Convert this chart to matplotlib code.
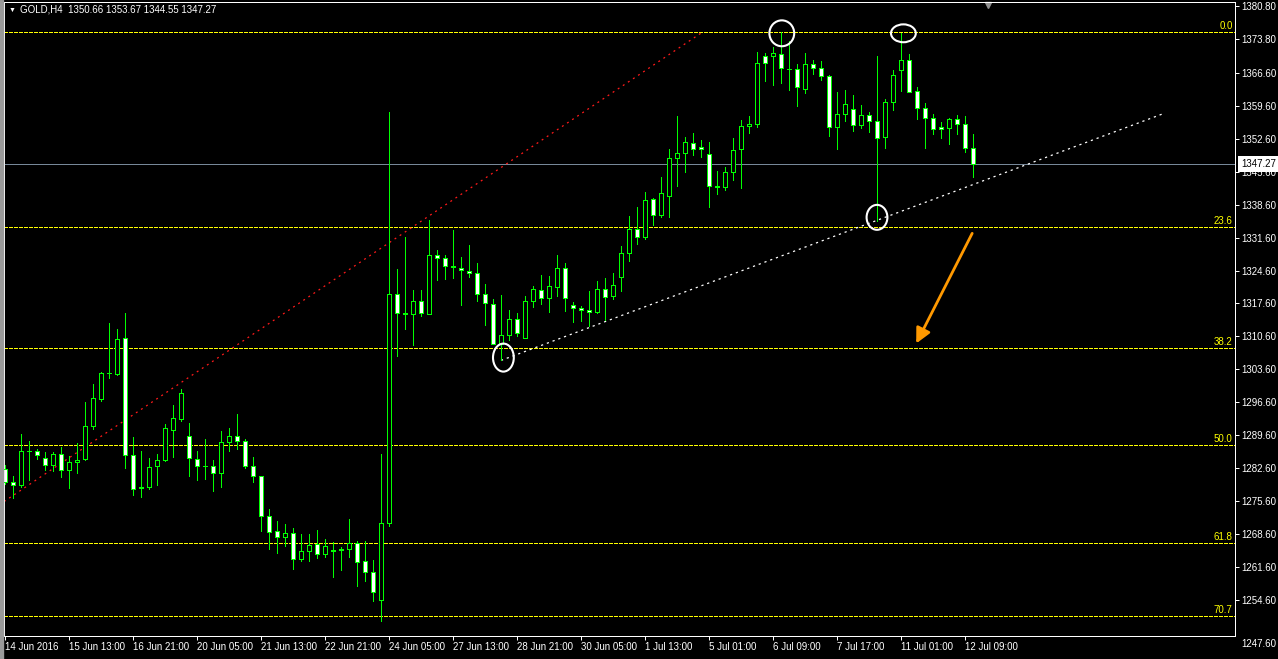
import numpy as np
import matplotlib
matplotlib.use('Agg')
import matplotlib.pyplot as plt
import matplotlib.transforms as mtransforms
from matplotlib.patches import Ellipse, Rectangle

plt.rcParams['font.family'] = ['Liberation Sans', 'DejaVu Sans']
plt.rcParams['lines.scale_dashes'] = False

# GOLD H4 bars, 14 Jun 2016 .. 12 Jul 2016
opens = [1282.44, 1279.69, 1278.98, 1286.17, 1286.31, 1284.83, 1283.21, 1285.68, 1282.15, 1283.85,
         1284.48, 1291.67, 1297.38, 1302.80, 1302.66, 1310.35, 1285.40, 1278.70, 1278.56, 1283.00,
         1284.27, 1290.82, 1293.15, 1289.41, 1284.65, 1283.17, 1283.17, 1281.62, 1288.17, 1289.51,
         1288.45, 1283.17, 1280.84, 1272.38, 1269.21, 1268.08, 1268.79, 1263.22, 1264.98, 1266.46,
         1264.28, 1265.12, 1265.41, 1265.33, 1266.67, 1262.87, 1260.54, 1254.55, 1271.04, 1319.54,
         1315.52, 1315.31, 1318.06, 1315.31, 1328.00, 1327.36, 1325.46, 1325.18, 1324.40, 1323.98,
         1319.54, 1317.43, 1308.97, 1310.87, 1314.25, 1310.24, 1318.06, 1320.39, 1318.69, 1321.16,
         1325.04, 1317.36, 1316.67, 1316.25, 1315.69, 1320.62, 1319.28, 1323.30, 1328.23, 1333.52,
         1331.76, 1339.75, 1336.37, 1340.53, 1348.42, 1349.48, 1351.59, 1350.82, 1349.27, 1342.57,
         1342.43, 1345.46, 1350.32, 1355.40, 1355.70, 1370.15, 1370.08, 1370.67, 1367.50, 1367.50,
         1363.27, 1368.56, 1367.71, 1366.02, 1355.03, 1357.78, 1358.98, 1355.52, 1357.57, 1356.30,
         1352.91, 1360.31, 1367.29, 1369.27, 1362.64, 1359.05, 1356.93, 1355.03, 1354.82, 1356.72,
         1355.73, 1350.66]
highs = [1283.35, 1281.03, 1289.91, 1288.43, 1286.59, 1286.03, 1286.03, 1287.16, 1285.11, 1287.93,
         1296.67, 1300.48, 1303.09, 1313.38, 1312.11, 1315.49, 1289.27, 1286.31, 1284.76, 1285.68,
         1292.02, 1296.04, 1299.42, 1292.23, 1286.20, 1288.73, 1284.43, 1290.43, 1291.06, 1294.02,
         1288.87, 1284.93, 1280.98, 1273.93, 1271.40, 1270.76, 1269.92, 1268.65, 1268.65, 1269.49,
         1267.52, 1266.89, 1265.90, 1271.82, 1267.03, 1267.10, 1263.15, 1285.56, 1358.27, 1324.90,
         1331.66, 1320.46, 1320.46, 1335.26, 1328.91, 1327.86, 1333.14, 1327.43, 1329.97, 1326.17,
         1321.72, 1318.55, 1319.40, 1316.23, 1315.52, 1319.19, 1321.30, 1323.63, 1323.42, 1327.86,
         1326.17, 1317.92, 1317.10, 1320.27, 1322.38, 1323.02, 1324.00, 1329.85, 1336.13, 1338.03,
         1341.34, 1339.93, 1344.47, 1350.39, 1357.37, 1353.07, 1353.78, 1352.30, 1352.01, 1345.74,
         1346.59, 1352.72, 1356.67, 1357.51, 1371.13, 1370.71, 1372.12, 1375.21, 1373.35, 1368.42,
         1370.75, 1369.27, 1369.05, 1366.20, 1362.50, 1362.92, 1361.86, 1359.68, 1358.34, 1370.11,
         1361.02, 1367.15, 1375.00, 1370.53, 1363.63, 1360.10, 1357.85, 1356.23, 1356.93, 1357.64,
         1357.50, 1353.67]
lows = [1279.34, 1276.30, 1278.56, 1280.18, 1284.62, 1282.15, 1282.08, 1280.75, 1278.35, 1281.59,
        1284.41, 1291.03, 1296.96, 1301.82, 1302.38, 1282.58, 1277.01, 1276.45, 1278.21, 1279.12,
        1284.06, 1284.90, 1292.73, 1280.89, 1280.06, 1280.35, 1277.74, 1278.58, 1286.20, 1286.69,
        1282.67, 1279.71, 1269.35, 1265.33, 1264.49, 1265.97, 1261.11, 1262.80, 1262.94, 1263.43,
        1263.64, 1259.41, 1260.89, 1263.64, 1257.51, 1258.71, 1254.34, 1250.11, 1270.41, 1306.50,
        1312.21, 1308.83, 1315.03, 1315.31, 1322.57, 1322.78, 1323.06, 1317.36, 1323.28, 1318.13,
        1313.13, 1308.97, 1305.51, 1309.74, 1310.59, 1310.24, 1316.93, 1317.57, 1315.88, 1319.26,
        1316.09, 1313.76, 1313.78, 1312.73, 1315.55, 1314.14, 1318.65, 1320.34, 1326.68, 1330.21,
        1331.26, 1334.32, 1335.87, 1335.87, 1342.64, 1345.60, 1349.19, 1348.77, 1337.99, 1340.95,
        1341.79, 1343.91, 1342.22, 1353.85, 1354.99, 1364.93, 1364.02, 1364.47, 1362.92, 1359.61,
        1362.36, 1366.31, 1365.04, 1353.27, 1350.52, 1356.37, 1354.32, 1354.82, 1353.97, 1335.08,
        1350.73, 1358.69, 1362.71, 1362.43, 1356.72, 1350.59, 1353.55, 1352.70, 1351.57, 1353.55,
        1349.88, 1344.55]
closes = [1279.62, 1279.05, 1286.31, 1286.17, 1285.33, 1283.21, 1285.68, 1282.15, 1283.92, 1284.34,
          1291.53, 1297.45, 1302.80, 1302.80, 1310.13, 1285.40, 1278.21, 1278.35, 1282.86, 1284.34,
          1291.11, 1293.22, 1298.51, 1284.76, 1283.10, 1283.17, 1281.62, 1288.24, 1289.51, 1288.45,
          1283.10, 1280.84, 1272.52, 1269.14, 1267.94, 1268.79, 1263.22, 1264.98, 1266.25, 1264.28,
          1266.04, 1264.98, 1265.19, 1266.67, 1262.59, 1260.47, 1256.24, 1270.90, 1319.54, 1315.52,
          1315.31, 1318.06, 1315.52, 1328.00, 1327.36, 1325.46, 1325.25, 1324.62, 1323.98, 1319.54,
          1317.64, 1308.97, 1310.87, 1314.25, 1311.29, 1318.06, 1320.60, 1318.69, 1321.30, 1325.04,
          1318.69, 1316.58, 1316.11, 1315.69, 1320.62, 1319.07, 1321.47, 1328.23, 1333.52, 1331.76,
          1339.65, 1336.37, 1341.02, 1348.42, 1349.48, 1351.80, 1350.32, 1350.32, 1342.64, 1342.43,
          1345.46, 1350.11, 1355.40, 1355.82, 1368.60, 1368.74, 1370.71, 1367.64, 1367.36, 1363.49,
          1368.56, 1367.71, 1366.02, 1355.03, 1357.78, 1359.89, 1355.52, 1357.64, 1356.30, 1352.70,
          1360.31, 1366.23, 1369.27, 1362.57, 1359.05, 1356.93, 1354.61, 1354.61, 1356.72, 1355.66,
          1350.73, 1347.27]

date_labels = ['14 Jun 2016', '15 Jun 13:00', '16 Jun 21:00', '20 Jun 05:00', '21 Jun 13:00',
               '22 Jun 21:00', '24 Jun 05:00', '27 Jun 13:00', '28 Jun 21:00', '30 Jun 05:00',
               '1 Jul 13:00', '5 Jul 01:00', '6 Jul 09:00', '7 Jul 17:00', '11 Jul 01:00',
               '12 Jul 09:00']
price_ticks = [1254.6, 1261.6, 1268.6, 1275.6, 1282.6, 1289.6, 1296.6, 1303.6, 1310.6, 1317.6,
               1324.6, 1331.6, 1338.6, 1345.6, 1352.6, 1359.6, 1366.6, 1373.8, 1380.8]

# fibonacci retracement (anchor points) and levels
fib_low, fib_high = 1199.8, 1375.21
fib_low_bar, fib_high_bar = -66.4, 87.15
fib_pcts = [0.0, 23.6, 38.2, 50.0, 61.8, 70.7]

# hand-drawn objects
trend_bars, trend_prices = [62, 145], [1305.5, 1358.06]
circles = [(97.1, 1375.0, 3.1, 5.5), (112.3, 1375.0, 3.1, 3.8),
           (109.0, 1335.9, 2.6, 5.3), (62.3, 1306.1, 2.6, 5.95)]
arrow_from, arrow_to = (120.9, 1332.5), (113.9, 1309.1)

FS = 7.0
W, H = 1278, 659
fig = plt.figure(figsize=(W / 100, H / 100), dpi=100, facecolor='black')
ax = fig.add_axes([4 / W, 23 / H, 1231 / W, 634 / H], facecolor='black')
fig.add_artist(Rectangle((0, 0), 3 / W, 1, transform=fig.transFigure, color='#9a9a9a'))
price_tr = mtransforms.blended_transform_factory(ax.transAxes, ax.transData)

o = np.array(opens)
h = np.array(highs)
l = np.array(lows)
c = np.array(closes)
x = np.arange(len(c))
green = '#00ff00'

# fib levels
rng = fib_high - fib_low
for p in fib_pcts:
    lvl = fib_high - p / 100 * rng
    ax.axhline(lvl, color='#ffff00', lw=0.72, dashes=(2.6, 1.4), zorder=2, antialiased=False)
    ax.text(0.998, lvl + 0.64, '%.1f' % p, transform=price_tr,
            ha='right', va='baseline', color='#ffff00', fontsize=FS, zorder=6)
ax.plot([fib_low_bar, fib_high_bar], [fib_low, fib_high], color='#ff1a1a', lw=0.9,
        dashes=(1.4, 3.0), zorder=2)

# current price line
ax.axhline(c[-1], color='#778899', lw=0.72, zorder=1, antialiased=False)

# trend line
ax.plot(trend_bars, trend_prices, color='white', lw=0.9, dashes=(1.6, 2.8), zorder=2)

# candles
ax.vlines(x, l, h, color=green, lw=0.72, zorder=3, antialiased=False)
face = np.where(c > o, 'black', 'white')
ax.bar(x, c - o, bottom=o, width=0.5, color=face, edgecolor=green, linewidth=0.72, zorder=4,
       antialiased=False)

for cx, cy, w, hh in circles:
    ax.add_patch(Ellipse((cx, cy), w, hh, fill=False, ec='white', lw=1.5, zorder=7))

ax.annotate('', xy=arrow_to, xytext=arrow_from,
            arrowprops=dict(arrowstyle='-|>,head_length=0.9,head_width=0.45', color='#ff9900',
                            lw=2, shrinkA=0, shrinkB=0), zorder=8)

ax.set_xlim(-0.125, 153.75)
ax.set_ylim(1246.95, 1381.65)

for s in ax.spines.values():
    s.set_color('white')
    s.set_linewidth(0.72)
    s.set_antialiased(False)

ax.yaxis.tick_right()
ax.set_yticks(price_ticks)
ax.set_yticklabels(['%.2f' % v for v in price_ticks])
ax.tick_params(axis='y', colors='white', direction='out', length=3, width=0.72, pad=1.5, labelsize=FS)
ax.set_xticks(x[::8])
ax.set_xticklabels(date_labels)
ax.tick_params(axis='x', colors='white', direction='out', length=3, width=0.72, pad=1.5, labelsize=FS)
for lab in ax.get_xticklabels():
    lab.set_ha('left')

# bottom price label sits under the frame
ax.text(1 + 6 / 1231, -8 / 634, '1247.60', transform=ax.transAxes, ha='left', va='center',
        color='white', fontsize=FS)

# last price marker on the scale
ax.text(1 + 6 / 1231, c[-1], '%.2f' % c[-1], transform=price_tr,
        ha='left', va='center', color='black', fontsize=FS, zorder=10, clip_on=False,
        bbox=dict(boxstyle='square,pad=0.3', fc='white', ec='none'))

# chart shift marker
ax.plot([122.9], [0.995], marker='v', ms=5, color='#909090', clip_on=False,
        transform=mtransforms.blended_transform_factory(ax.transData, ax.transAxes))

fig.text(9 / W, 1 - 10 / H, '\u25bc', color='white', fontsize=5, va='center', ha='left')
fig.text(20 / W, 1 - 10 / H, 'GOLD,H4  %.2f %.2f %.2f %.2f' % (o[-1], h[-1], l[-1], c[-1]),
         color='white', fontsize=FS, va='center', ha='left')

fig.savefig('out.png', dpi=100, facecolor='black')
